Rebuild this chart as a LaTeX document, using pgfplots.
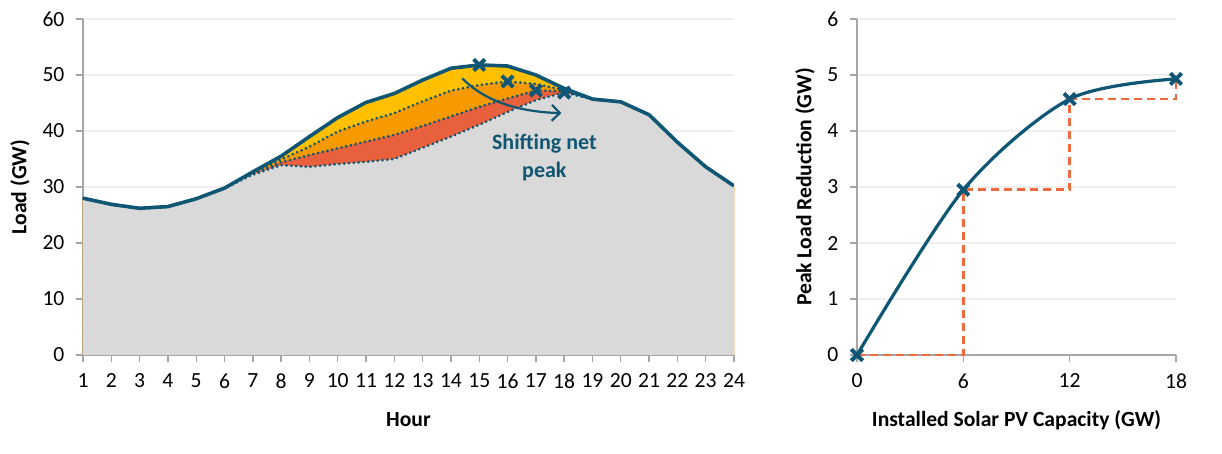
\documentclass[border=0pt]{standalone}
\usepackage{fontspec}
\setmainfont{Carlito}
\usepackage{pgfplots}
\usepackage{pgfplotstable}
\pgfplotsset{compat=1.18}
\usetikzlibrary{arrows.meta}
\definecolor{lt}{HTML}{0E5673}
\definecolor{yel}{HTML}{FFC000}
\definecolor{ora}{HTML}{F79A00}
\definecolor{red1}{HTML}{E8603C}
\definecolor{gry}{HTML}{D9D9D9}
\definecolor{axg}{HTML}{A6A6A6}
\definecolor{gridc}{HTML}{EFEFEF}
\definecolor{dashc}{HTML}{EE6A3C}

\pgfplotstableread{
h top d1 d2 d3
1 28.0 28.0 28.0 28.0
2 26.9 26.9 26.9 26.9
3 26.2 26.2 26.2 26.2
4 26.5 26.5 26.5 26.5
5 27.9 27.9 27.9 27.9
6 29.8 29.8 29.8 29.8
7 32.7 32.5 32.3 32.2
8 35.5 34.9 34.4 33.9
9 39.0 37.2 35.7 33.6
10 42.4 39.9 36.9 34.1
11 45.1 41.7 38.1 34.5
12 46.7 43.2 39.3 35.0
13 49.1 45.3 40.9 37.0
14 51.2 47.2 42.6 39.0
15 51.8 48.2 44.3 41.1
16 51.6 48.85 45.8 43.4
17 50.0 48.4 47.23 45.5
18 47.6 47.3 47.1 46.87
19 45.7 45.7 45.7 45.7
20 45.2 45.2 45.2 45.2
21 42.9 42.9 42.9 42.9
22 38.0 38.0 38.0 38.0
23 33.6 33.6 33.6 33.6
24 30.2 30.2 30.2 30.2
}\load

\pgfplotsset{
  mystyle/.style={
    scale only axis,
    axis x line*=bottom, axis y line*=left,
    axis line style={draw=axg, line width=0.7pt, -},
    tick style={draw=axg, line width=0.7pt},
    tick align=outside, major tick length=3.5pt,
    ymajorgrids, grid style={draw=gridc, line width=0.6pt},
    /pgf/number format/assume math mode=true,
    tick label style={font=\fontsize{10.8}{12}\selectfont, text=black},
    label style={font=\fontsize{10.8}{12}\selectfont\bfseries, text=black},
    yticklabel style={xshift=-2pt},
    xticklabel style={yshift=-2pt},
  },
  netline/.style={lt, line width=1.5pt, dash pattern=on 0.01pt off 2.4pt, line cap=round},
}

\begin{document}
\fontsize{10.8}{12}\selectfont
\begin{tikzpicture}[x=1pt,y=1pt]
\useasboundingbox (0,0) rectangle (611,227);
\begin{axis}[mystyle,
  at={(41.5pt,49.5pt)}, anchor=south west,
  width=325.5pt, height=168pt,
  xmin=1, xmax=24, ymin=0, ymax=60,
  xtick={1,...,24}, ytick={0,10,...,60},
  xlabel={Hour}, ylabel={Load (GW)},
  xlabel style={at={(axis description cs:0.5,0)}, anchor=center, yshift=-32.5pt},
  ylabel style={at={(axis description cs:0,0.5)}, anchor=center, rotate=0, yshift=31.5pt},
]
\addplot[fill=yel, draw=none] table[x=h,y=top] {\load} \closedcycle;
\addplot[fill=ora, draw=none] table[x=h,y=d1] {\load} \closedcycle;
\addplot[fill=red1, draw=none] table[x=h,y=d2] {\load} \closedcycle;
\addplot[fill=gry, draw=none] table[x=h,y=d3] {\load} \closedcycle;
\addplot[netline] table[x=h,y=d1] {\load};
\addplot[netline] table[x=h,y=d2] {\load};
\addplot[netline] table[x=h,y=d3] {\load};
\addplot[lt, dotted, line width=0.5pt] coordinates {(1,0) (1,28)};
\addplot[lt!40, dotted, line width=0.5pt] coordinates {(24,0) (24,30.2)};
\addplot[lt, line width=1.8pt] table[x=h,y=top] {\load};
\addplot[lt, only marks, mark=x, mark size=4pt, mark options={line width=2pt}]
  coordinates {(15,51.8) (16,48.85) (17,47.23) (18,46.87)};
\draw[lt, line width=1.1pt, -{Straight Barb[length=4pt,width=8pt,line width=1.1pt]}]
  (axis cs:14.4,49.4) .. controls (axis cs:15.2,45.3) and (axis cs:16.4,43.4) .. (axis cs:17.9,43.2);
\node[text=lt, font=\fontsize{11}{14}\selectfont\bfseries, align=center]
  at (axis cs:17.3,35.3) {Shifting net\\peak};
\end{axis}

\begin{axis}[mystyle,
  at={(428.5pt,49.5pt)}, anchor=south west,
  width=159.5pt, height=168pt,
  xmin=0, xmax=18, ymin=0, ymax=6,
  xtick={0,6,12,18}, ytick={0,1,...,6},
  xlabel={Installed Solar PV Capacity (GW)}, ylabel={Peak Load Reduction (GW)},
  xlabel style={at={(axis description cs:0.5,0)}, anchor=center, yshift=-32.5pt},
  ylabel style={at={(axis description cs:0,0.5)}, anchor=center, yshift=26pt},
  clip=false,
]
\addplot[dashc, line width=1.3pt, dash pattern=on 4pt off 2.5pt]
  coordinates {(0,0) (6,0) (6,2.95) (12,2.95) (12,4.57) (18,4.57) (18,4.93)};
\addplot[lt, line width=1.6pt, smooth, tension=0.5]
  coordinates {(0,0) (6,2.95) (12,4.57) (18,4.93)};
\addplot[lt, only marks, mark=x, mark size=4pt, mark options={line width=2pt}]
  coordinates {(0,0) (6,2.95) (12,4.57) (18,4.93)};
\end{axis}
\end{tikzpicture}
\end{document}
